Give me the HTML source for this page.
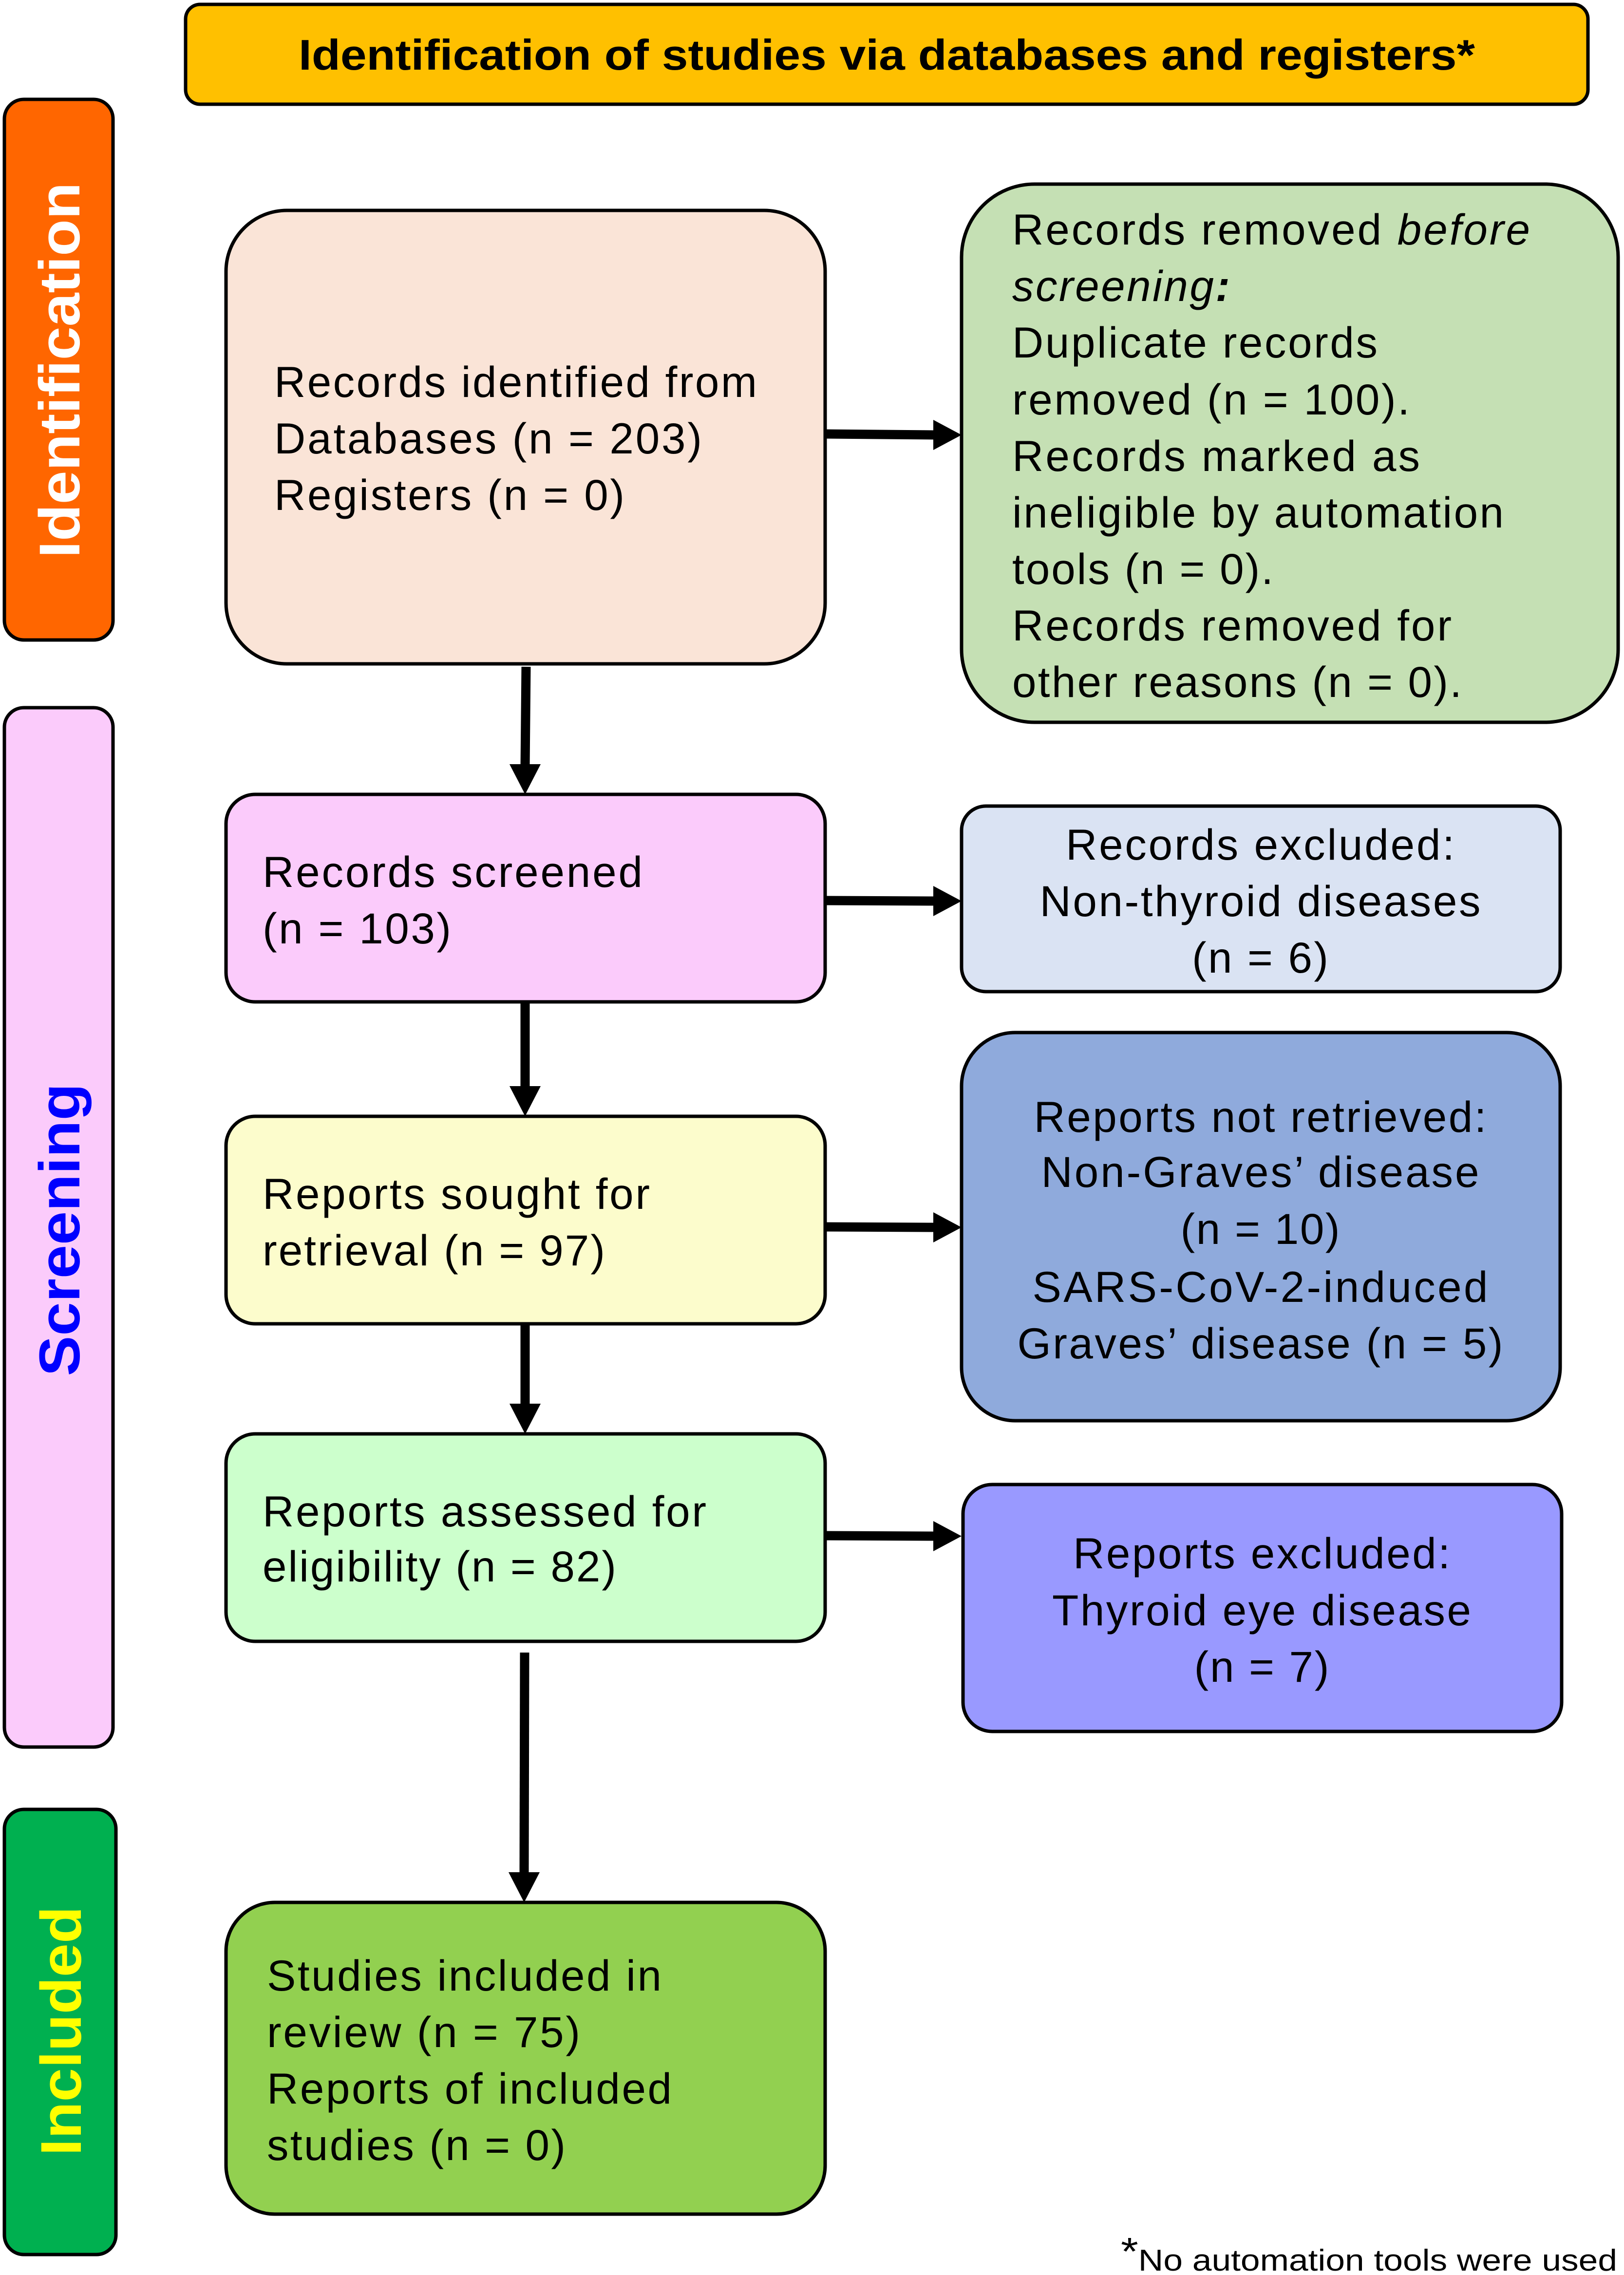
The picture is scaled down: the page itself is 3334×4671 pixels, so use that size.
<!DOCTYPE html>
<html><head><meta charset="utf-8"><style>html,body{margin:0;padding:0;background:#fff}svg{display:block}</style></head>
<body>
<svg width="3334" height="4671" viewBox="0 0 3334 4671" xmlns="http://www.w3.org/2000/svg" font-family="'Liberation Sans', Arial, sans-serif">
<g stroke="#000" stroke-width="7">
<rect x="381" y="9" width="2879" height="205" rx="30" fill="#FFC000"/>
<rect x="9" y="204" width="223" height="1110" rx="40" fill="#FF6600"/>
<rect x="9" y="1453" width="223" height="2134" rx="40" fill="#FBCBFB"/>
<rect x="9" y="3715" width="229" height="914" rx="40" fill="#00B050"/>
<rect x="464" y="432" width="1230" height="931" rx="125" fill="#FAE4D7"/>
<rect x="1974" y="378" width="1348" height="1105" rx="150" fill="#C5E0B4"/>
<rect x="464" y="1631" width="1230" height="426" rx="60" fill="#FBCBFB"/>
<rect x="1974" y="1655" width="1229" height="381" rx="50" fill="#DAE3F3"/>
<rect x="464" y="2292" width="1230" height="426" rx="60" fill="#FCFCCC"/>
<rect x="1974" y="2120" width="1229" height="797" rx="110" fill="#8FAADC"/>
<rect x="464" y="2944" width="1230" height="426" rx="60" fill="#CCFFCC"/>
<rect x="1977" y="3048" width="1229" height="507" rx="60" fill="#9999FF"/>
<rect x="464" y="3906" width="1230" height="640" rx="100" fill="#92D050"/>
</g>
<g stroke="#000" stroke-width="19" fill="none">
<line x1="1080" y1="1369" x2="1078" y2="1575"/>
<line x1="1078" y1="2057" x2="1078" y2="2236"/>
<line x1="1078" y1="2718" x2="1078" y2="2888"/>
<line x1="1077" y1="3393" x2="1076" y2="3850"/>
<line x1="1694" y1="891" x2="1918" y2="893"/>
<line x1="1694" y1="1849" x2="1918" y2="1850"/>
<line x1="1694" y1="2519" x2="1918" y2="2520"/>
<line x1="1694" y1="3153" x2="1918" y2="3154"/>
</g>
<g fill="#000">
<polygon points="1046,1569 1110,1569 1078,1631"/>
<polygon points="1046,2230 1110,2230 1078,2292"/>
<polygon points="1046,2882 1110,2882 1078,2944"/>
<polygon points="1044,3844 1108,3844 1076,3906"/>
<polygon points="1916,862 1916,924 1974,893"/>
<polygon points="1916,1819 1916,1881 1974,1850"/>
<polygon points="1916,2489 1916,2551 1974,2520"/>
<polygon points="1916,3123 1916,3185 1974,3154"/>
</g>
<text x="613" y="143" font-size="88" font-weight="bold" textLength="2415" lengthAdjust="spacingAndGlyphs">Identification of studies via databases and registers*</text>
<text transform="translate(163,760) rotate(-90)" text-anchor="middle" font-size="118" font-weight="bold" fill="#fff" textLength="771" lengthAdjust="spacingAndGlyphs">Identification</text>
<text transform="translate(163,2525) rotate(-90)" text-anchor="middle" font-size="118" font-weight="bold" fill="#0000FF" textLength="601" lengthAdjust="spacingAndGlyphs">Screening</text>
<text transform="translate(166,4170) rotate(-90)" text-anchor="middle" font-size="118" font-weight="bold" fill="#FFFF00" textLength="512" lengthAdjust="spacingAndGlyphs">Included</text>
<g font-size="89" lengthAdjust="spacingAndGlyphs">
<text x="563" y="815" textLength="991">Records identified from</text>
<text x="563" y="931" textLength="878">Databases (n = 203)</text>
<text x="563" y="1047" textLength="719">Registers (n = 0)</text>
<text x="2078" y="502" textLength="1063">Records removed <tspan font-style="italic">before</tspan></text>
<text x="2078" y="618" textLength="447"><tspan font-style="italic">screening</tspan><tspan font-weight="bold" font-style="italic">:</tspan></text>
<text x="2078" y="734" textLength="750">Duplicate records</text>
<text x="2078" y="851" textLength="816">removed (n = 100).</text>
<text x="2078" y="967" textLength="837">Records marked as</text>
<text x="2078" y="1083" textLength="1009">ineligible by automation</text>
<text x="2078" y="1199" textLength="536">tools (n = 0).</text>
<text x="2078" y="1315" textLength="902">Records removed for</text>
<text x="2078" y="1431" textLength="923">other reasons (n = 0).</text>
<text x="539" y="1821" textLength="780">Records screened</text>
<text x="539" y="1937" textLength="387">(n = 103)</text>
<text x="539" y="2482" textLength="795">Reports sought for</text>
<text x="539" y="2598" textLength="703">retrieval (n = 97)</text>
<text x="539" y="3134" textLength="911">Reports assessed for</text>
<text x="539" y="3247" textLength="726">eligibility (n = 82)</text>
<text x="548" y="4087" textLength="810">Studies included in</text>
<text x="548" y="4203" textLength="643">review (n = 75)</text>
<text x="548" y="4319" textLength="831">Reports of included</text>
<text x="548" y="4435" textLength="613">studies (n = 0)</text>
<g text-anchor="middle">
<text x="2587" y="1765" textLength="798">Records excluded:</text>
<text x="2587" y="1881" textLength="905">Non-thyroid diseases</text>
<text x="2587" y="1997" textLength="280">(n = 6)</text>
<text x="2587" y="2324" textLength="929">Reports not retrieved:</text>
<text x="2587" y="2437" textLength="899">Non-Graves’ disease</text>
<text x="2587" y="2554" textLength="327">(n = 10)</text>
<text x="2587" y="2673" textLength="935">SARS-CoV-2-induced</text>
<text x="2587" y="2789" textLength="997">Graves’ disease (n = 5)</text>
<text x="2590" y="3220" textLength="774">Reports excluded:</text>
<text x="2590" y="3337" textLength="860">Thyroid eye disease</text>
<text x="2590" y="3453" textLength="277">(n = 7)</text>
</g>
</g>
<text x="2301" y="4662" font-size="62" textLength="1019" lengthAdjust="spacingAndGlyphs"><tspan font-size="80" dy="-12">*</tspan><tspan dy="12">No automation tools were used</tspan></text>
</svg>
</body></html>
